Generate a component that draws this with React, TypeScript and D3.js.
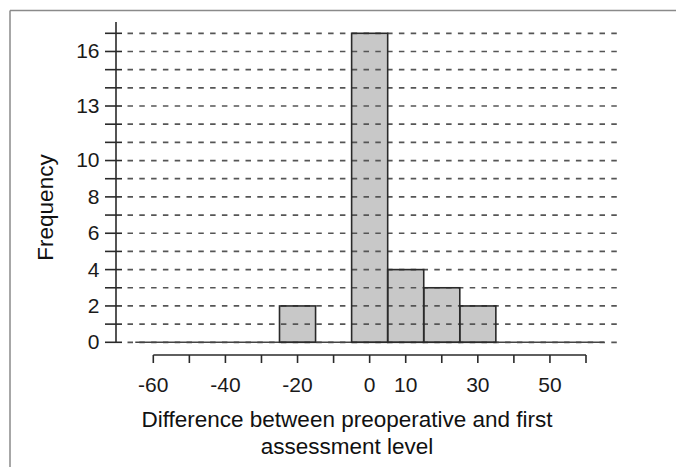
import React from "react";
import * as d3 from "d3";

const binStarts = [-25, -5, 5, 15, 25];
const binWidth = 10;
const counts = [2, 17, 4, 3, 2];
const yTickLabels = [0, 2, 4, 6, 8, 10, 13, 16];
const yMinorTicks = d3.range(0, 18);
const xTicks = d3.range(-60, 61, 10);
const xTickLabels = [-60, -40, -20, 0, 10, 30, 50];
const xTitle = ["Difference between preoperative and first", "assessment level"];
const yTitle = "Frequency";

export default function App() {
  const W = 676, H = 467;
  const x = d3.scaleLinear().domain([-60, 60]).range([153.3, 586]);
  const y = d3.scaleLinear().domain([0, 17]).range([342.3, 33.3]);
  const font = "Liberation Sans, Arial, Helvetica, sans-serif";
  const axisColor = "#2a2a2a";
  const axisX = 116;
  const xAxisY = 355;

  return (
    <svg width={W} height={H} style={{ position: "absolute", left: 0, top: 0, background: "#fff" }} fontFamily={font}>
      {/* frame */}
      <line x1={10} y1={10.5} x2={W} y2={10.5} stroke="#8a8a8a" strokeWidth={1.5} />
      <line x1={10} y1={10.5} x2={10} y2={H} stroke="#8a8a8a" strokeWidth={1.5} />

      {/* bars */}
      {counts.map((c, i) => (
        <rect
          key={i}
          x={x(binStarts[i])}
          y={y(c)}
          width={x(binStarts[i] + binWidth) - x(binStarts[i])}
          height={y(0) - y(c)}
          fill="#c8c8c8"
          stroke="none"
        />
      ))}

      {/* grid lines */}
      {yMinorTicks.map((t) => (
        <line
          key={t}
          x1={127.5}
          x2={623}
          y1={y(t)}
          y2={y(t)}
          stroke="#555"
          strokeWidth={1.7}
          strokeDasharray="5.5,6.3"
        />
      ))}
      {/* solid baseline */}
      <line x1={x(-65)} x2={x(65)} y1={y(0)} y2={y(0)} stroke="#444" strokeWidth={1.5} />

      {/* bar outlines */}
      {counts.map((c, i) => (
        <rect
          key={"o" + i}
          x={x(binStarts[i])}
          y={y(c)}
          width={x(binStarts[i] + binWidth) - x(binStarts[i])}
          height={y(0) - y(c)}
          fill="none"
          stroke={axisColor}
          strokeWidth={1.6}
        />
      ))}

      {/* y axis */}
      <line x1={axisX} x2={axisX} y1={22} y2={y(0)} stroke={axisColor} strokeWidth={1.6} />
      {yMinorTicks.map((t) => (
        <line key={"yt" + t} x1={105} x2={122} y1={y(t)} y2={y(t)} stroke={axisColor} strokeWidth={1.6} />
      ))}
      {yTickLabels.map((t) => (
        <text key={"yl" + t} x={99.5} y={y(t)} dy="0.33em" textAnchor="end" fontSize={21} fill="#1a1a1a">
          {t}
        </text>
      ))}

      {/* x axis */}
      <line x1={x(-60)} x2={x(60)} y1={xAxisY} y2={xAxisY} stroke={axisColor} strokeWidth={1.6} />
      {xTicks.map((t) => (
        <line key={"xt" + t} x1={x(t)} x2={x(t)} y1={xAxisY} y2={363} stroke={axisColor} strokeWidth={1.6} />
      ))}
      {xTickLabels.map((t) => (
        <text key={"xl" + t} x={x(t)} y={391.5} textAnchor="middle" fontSize={21} fill="#1a1a1a">
          {t}
        </text>
      ))}

      {/* titles */}
      <text x={347} y={426.5} textAnchor="middle" fontSize={22.5} fill="#111">{xTitle[0]}</text>
      <text x={347} y={454} textAnchor="middle" fontSize={22.5} fill="#111">{xTitle[1]}</text>
      <text transform="translate(53,207.5) rotate(-90)" textAnchor="middle" fontSize={22.5} fill="#111">{yTitle}</text>
    </svg>
  );
}
